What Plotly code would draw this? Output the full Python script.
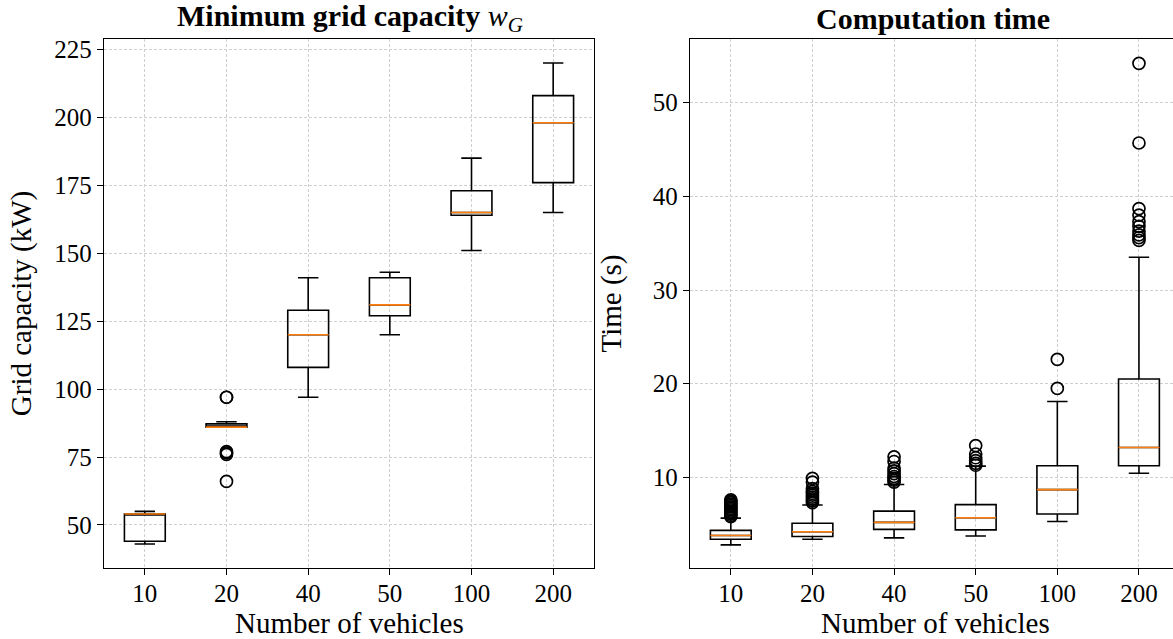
import plotly.graph_objects as go

# ---------------- data ----------------
categories = ["10", "20", "40", "50", "100", "200"]

# Minimum grid capacity (kW)
grid_lower = [43, 86, 97, 120, 151, 165]
grid_q1 = [44, 86, 108, 127, 164, 176]
grid_median = [54, 86, 120, 131, 165, 198]
grid_q3 = [54, 87.2, 129, 141, 173, 208]
grid_upper = [55, 88, 141, 143, 185, 220]
grid_outliers = [[], [97, 97, 77, 76.5, 76, 66], [], [], [], []]

# Computation time (s)
time_lower = [2.8, 3.4, 3.55, 3.75, 5.3, 10.45]
time_q1 = [3.4, 3.7, 4.45, 4.4, 6.1, 11.25]
time_median = [3.8, 4.2, 5.2, 5.7, 8.7, 13.2]
time_q3 = [4.35, 5.1, 6.4, 7.1, 11.25, 20.5]
time_upper = [5.65, 7.05, 9.25, 11.2, 18.1, 33.5]
time_outliers = [
    [5.8, 5.95, 6.1, 6.25, 6.4, 6.55, 6.7, 6.85, 7.0, 7.15, 7.3, 7.45, 7.6],
    [7.3, 7.5, 7.7, 7.9, 8.1, 8.3, 8.5, 8.8, 9.5, 9.9],
    [9.5, 9.7, 9.9, 10.1, 10.4, 10.7, 11.0, 11.7, 12.2],
    [11.3, 11.5, 11.8, 12.1, 12.5, 13.4],
    [19.5, 22.6],
    [35.3, 35.6, 35.9, 36.3, 36.8, 37.3, 38.0, 38.7, 45.7, 54.2],
]

grid_ticks = [50, 75, 100, 125, 150, 175, 200, 225]
time_ticks = [10, 20, 30, 40, 50]

# ---------------- style ----------------
FONT = "Liberation Serif"
BLACK = "#000000"
ORANGE = "#ff7f0e"
LW = 1.6

W, H = 1173, 639
ML, MR, MT, MB = 104, 0, 39, 71
PW = W - ML - MR
PH = H - MT - MB
left_dom = [0, (594 - ML) / PW]
right_dom = [(690 - ML) / PW, 1]


def px_to_xpaper(px):
    return (px - ML) / PW


def px_to_ypaper(py):
    return (H - MB - py) / PH


fig = go.Figure()


def add_boxes(xaxis, yaxis, lower, q1, med, q3, upper, outliers):
    fig.add_trace(go.Box(
        x=categories, q1=q1, median=med, q3=q3,
        lowerfence=lower, upperfence=upper,
        width=0.5, whiskerwidth=0.5,
        line=dict(color=BLACK, width=LW),
        fillcolor="rgba(0,0,0,0)", boxpoints=False,
        xaxis=xaxis, yaxis=yaxis, showlegend=False, hoverinfo="skip",
    ))
    fig.add_trace(go.Box(
        x=categories, q1=med, median=med, q3=med,
        lowerfence=med, upperfence=med,
        width=0.5, whiskerwidth=0.0,
        line=dict(color=ORANGE, width=LW),
        fillcolor="rgba(0,0,0,0)", boxpoints=False,
        xaxis=xaxis, yaxis=yaxis, showlegend=False, hoverinfo="skip",
    ))
    ox, oy = [], []
    for c, vals in zip(categories, outliers):
        for v in vals:
            ox.append(c)
            oy.append(v)
    fig.add_trace(go.Scatter(
        x=ox, y=oy, mode="markers",
        marker=dict(symbol="circle-open", size=12, color=BLACK,
                    line=dict(width=1.7, color=BLACK)),
        xaxis=xaxis, yaxis=yaxis, showlegend=False, hoverinfo="skip",
    ))


add_boxes("x", "y", grid_lower, grid_q1, grid_median, grid_q3, grid_upper, grid_outliers)
add_boxes("x2", "y2", time_lower, time_q1, time_median, time_q3, time_upper, time_outliers)

axis_common = dict(
    showline=True, linecolor=BLACK, linewidth=1.3, mirror=True,
    ticks="outside", ticklen=6, tickwidth=1.3, tickcolor=BLACK,
    showgrid=True, gridcolor="#cfcfcf", gridwidth=0.8, griddash="3px,2px",
    zeroline=False,
    tickfont=dict(family=FONT, size=25, color=BLACK),
)

fig.update_layout(
    width=W, height=H,
    margin=dict(l=ML, r=MR, t=MT, b=MB),
    paper_bgcolor="white", plot_bgcolor="white",
    boxmode="overlay",
    font=dict(family=FONT, color=BLACK),
    xaxis=dict(domain=left_dom, type="category", range=[-0.5, 5.5],
               ticklabelstandoff=-3, anchor="y", **axis_common),
    yaxis=dict(domain=[0, 1], range=[34.15, 228.85], tickvals=grid_ticks,
               title=dict(text="Grid capacity (kW)", font=dict(family=FONT, size=29), standoff=14),
               anchor="x", **axis_common),
    xaxis2=dict(domain=right_dom, type="category", range=[-0.5, 5.417],
                ticklabelstandoff=-3, anchor="y2", **axis_common),
    yaxis2=dict(domain=[0, 1], range=[0.33, 56.8], tickvals=time_ticks,
                title=dict(text="Time (s)", font=dict(family=FONT, size=29), standoff=22),
                anchor="x2", **axis_common),
    annotations=[
        dict(text="<b>Minimum grid capacity</b> <i>w</i><sub><i>G</i></sub>",
             x=px_to_xpaper(350), y=px_to_ypaper(18), xref="paper", yref="paper",
             xanchor="center", yanchor="middle", showarrow=False,
             font=dict(family=FONT, size=30, color=BLACK)),
        dict(text="<b>Computation time</b>",
             x=px_to_xpaper(933), y=px_to_ypaper(18), xref="paper", yref="paper",
             xanchor="center", yanchor="middle", showarrow=False,
             font=dict(family=FONT, size=30, color=BLACK)),
        dict(text="Number of vehicles",
             x=px_to_xpaper(349), y=px_to_ypaper(623), xref="paper", yref="paper",
             xanchor="center", yanchor="middle", showarrow=False,
             font=dict(family=FONT, size=29, color=BLACK)),
        dict(text="Number of vehicles",
             x=px_to_xpaper(935), y=px_to_ypaper(623), xref="paper", yref="paper",
             xanchor="center", yanchor="middle", showarrow=False,
             font=dict(family=FONT, size=29, color=BLACK)),
    ],
)

fig.write_html("out.html")
